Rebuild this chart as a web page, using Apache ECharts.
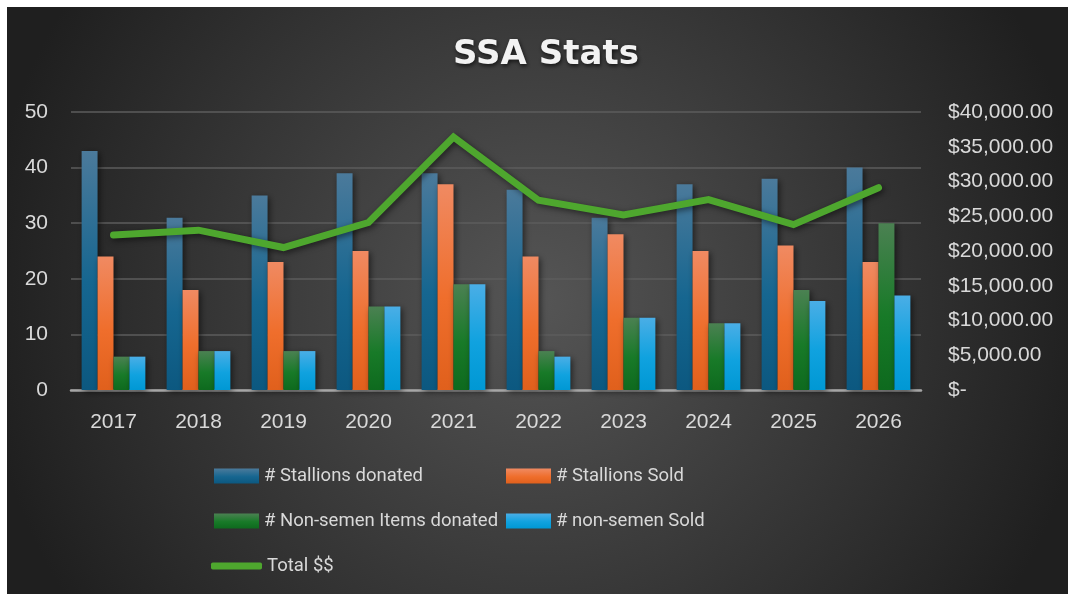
<!DOCTYPE html>
<html>
<head>
<meta charset="utf-8">
<script src="https://cdn.jsdelivr.net/npm/echarts@6/dist/echarts.min.js"></script>
<style>
html,body{margin:0;padding:0;background:#fff;}
#chart{width:1068px;height:594px;}
</style>
</head>
<body>
<div id="chart"></div>
<script>
const categories = ['2017','2018','2019','2020','2021','2022','2023','2024','2025','2026'];
const stallionsDonated = [43,31,35,39,39,36,31,37,38,40];
const stallionsSold = [24,18,23,25,37,24,28,25,26,23];
const nonSemenDonated = [6,7,7,15,19,7,13,12,18,30];
const nonSemenSold = [6,7,7,15,19,6,13,12,16,17];
const totalDollars = [22300,23000,20500,24100,36400,27300,25200,27400,23800,29100];

const seriesNames = ['# Stallions donated','# Stallions Sold','# Non-semen Items donated','# non-semen Sold','Total $$'];

function grad(c0, c1, c2){
  return new echarts.graphic.LinearGradient(0,0,0,1,[
    {offset:0,color:c0},{offset:0.55,color:c1},{offset:1,color:c2}
  ]);
}
const colBlue = grad('#4b7a9b','#166690','#0c5880');
const colOrange = grad('#f08a62','#ef6e2c','#e0601c');
const colGreen = grad('#4b8152','#187a28','#0e6a1e');
const colCyan = grad('#4aaee6','#10a2df','#0098d4');

const chart = echarts.init(document.getElementById('chart'));
const labelColor = '#d9d9d9';
const barShadow = {shadowBlur:6, shadowColor:'rgba(0,0,0,0.55)', shadowOffsetX:2, shadowOffsetY:2};

function fmtMoney(v){
  if(v===0) return '$-';
  return '$' + v.toLocaleString('en-US',{minimumFractionDigits:2, maximumFractionDigits:2});
}

function legendAt(name, left, top, opts){
  return Object.assign({
    data:[name], left:left, top:top, orient:'horizontal', padding:0,
    itemWidth:45, itemHeight:15, itemGap:5,
    icon:'rect',
    selectedMode:false,
    textStyle:{color:labelColor, fontSize:18.5, fontFamily:'Roboto', lineHeight:22}
  }, opts||{});
}

const option = {
  animation:false,
  backgroundColor:'#ffffff',
  graphic:[{
    type:'rect', z:-10, silent:true,
    shape:{x:7,y:7,width:1061,height:587},
    style:{fill:new echarts.graphic.RadialGradient(0.5,0.5,0.95,[
      {offset:0,color:'#555555'},{offset:1,color:'#1f1f1f'}
    ])}
  }],
  title:{
    text:'SSA Stats', left:541, textAlign:'center', top:33,
    textStyle:{color:'#f2f2f2', fontSize:34, fontWeight:'bold', fontFamily:'DejaVu Sans',
      textShadowColor:'rgba(0,0,0,0.7)', textShadowBlur:4, textShadowOffsetX:1, textShadowOffsetY:2}
  },
  legend:[
    legendAt(seriesNames[0], 214, 465),
    legendAt(seriesNames[1], 506, 465),
    legendAt(seriesNames[2], 214, 510),
    legendAt(seriesNames[3], 506, 510),
    legendAt(seriesNames[4], 211, 555, {icon:'roundRect', itemWidth:51, itemHeight:7, itemGap:6})
  ],
  grid:{left:71, right:147, top:112, bottom:204, containLabel:false},
  xAxis:{
    type:'category', data:categories,
    axisLine:{show:true, lineStyle:{color:'#a6a6a6', width:2.5}},
    axisTick:{show:false},
    axisLabel:{color:labelColor, fontSize:21, fontFamily:'Liberation Sans', margin:22}
  },
  yAxis:[
    {type:'value', min:0, max:50, interval:10, position:'left',
     axisLine:{show:false}, axisTick:{show:false},
     axisLabel:{color:labelColor, fontSize:21, fontFamily:'Liberation Sans', margin:23},
     splitLine:{show:true, lineStyle:{color:'#5c5c5c', width:1.5}}},
    {type:'value', min:0, max:40000, interval:5000, position:'right',
     axisLine:{show:false}, axisTick:{show:false},
     axisLabel:{color:labelColor, fontSize:21, fontFamily:'Liberation Sans', margin:27, formatter:fmtMoney},
     splitLine:{show:false}}
  ],
  series:[
    {name:seriesNames[0], type:'bar', data:stallionsDonated, barGap:'0%', barCategoryGap:'25%',
     itemStyle:Object.assign({color:colBlue}, barShadow)},
    {name:seriesNames[1], type:'bar', data:stallionsSold,
     itemStyle:Object.assign({color:colOrange}, barShadow)},
    {name:seriesNames[2], type:'bar', data:nonSemenDonated,
     itemStyle:Object.assign({color:colGreen}, barShadow)},
    {name:seriesNames[3], type:'bar', data:nonSemenSold,
     itemStyle:Object.assign({color:colCyan}, barShadow)},
    {name:seriesNames[4], type:'line', yAxisIndex:1, data:totalDollars, symbol:'none', z:5,
     itemStyle:{color:'#4ea72e'},
     lineStyle:{color:'#4ea72e', width:7, cap:'round', join:'miter',
       shadowBlur:6, shadowColor:'rgba(0,0,0,0.55)', shadowOffsetX:2, shadowOffsetY:2}}
  ]
};
chart.setOption(option);
</script>
</body>
</html>
